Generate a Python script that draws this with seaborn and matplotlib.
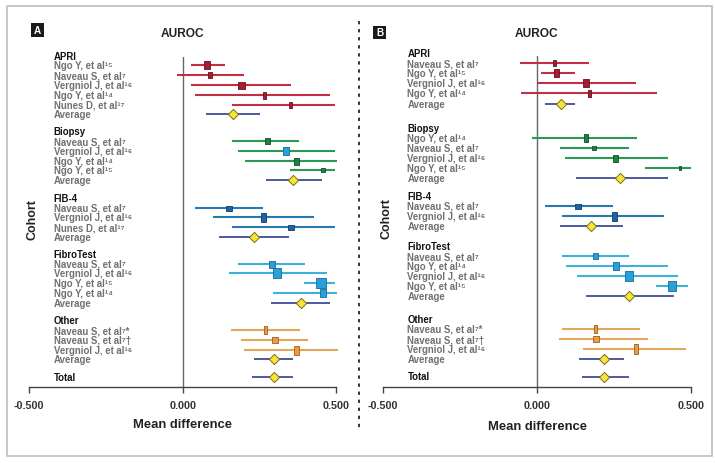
import matplotlib
matplotlib.use("Agg")
import numpy as np
import pandas as pd
import matplotlib.pyplot as plt
import seaborn as sns
from matplotlib import font_manager as fm
from matplotlib.path import Path
from matplotlib.patches import Rectangle
from matplotlib.lines import Line2D

# ---------------- DATA ----------------
GROUPS = ["APRI", "Biopsy", "FIB-4", "FibroTest", "Other"]
NGO15 = "Ngo Y, et al\u00b9\u2075"
NGO14 = "Ngo Y, et al\u00b9\u2074"
NAV7 = "Naveau S, et al\u2077"
NAV7S = "Naveau S, et al\u2077*"
NAV7D = "Naveau S, et al\u2077\u2020"
VER16 = "Vergniol J, et al\u00b9\u2076"
NUN17 = "Nunes D, et al\u00b9\u2077"

# Panel A
a_apri_lab = [NGO15, NAV7, VER16, NGO14, NUN17]
a_apri_est = [0.080, 0.089, 0.190, 0.265, 0.348]
a_apri_lo = [0.028, -0.019, 0.028, 0.040, 0.159]
a_apri_hi = [0.138, 0.200, 0.351, 0.480, 0.496]
a_apri_w = [6, 4, 7, 3, 3]
a_apri_h = [8, 6, 7, 7, 6]
a_apri_avg = [0.163, 0.074, 0.252]

a_bio_lab = [NAV7, VER16, NGO14, NGO15]
a_bio_est = [0.273, 0.337, 0.369, 0.458]
a_bio_lo = [0.159, 0.180, 0.202, 0.349]
a_bio_hi = [0.377, 0.496, 0.502, 0.496]
a_bio_w = [5, 6, 5, 4]
a_bio_h = [6, 8, 7, 5]
a_bio_avg = [0.360, 0.270, 0.453]

a_fib_lab = [NAV7, VER16, NUN17]
a_fib_est = [0.149, 0.261, 0.352]
a_fib_lo = [0.040, 0.098, 0.159]
a_fib_hi = [0.260, 0.426, 0.496]
a_fib_w = [6, 5, 6]
a_fib_h = [5, 9, 5]
a_fib_avg = [0.232, 0.118, 0.346]

a_ft_lab = [NAV7, VER16, NGO15, NGO14]
a_ft_est = [0.289, 0.308, 0.450, 0.457]
a_ft_lo = [0.180, 0.149, 0.394, 0.294]
a_ft_hi = [0.398, 0.471, 0.496, 0.502]
a_ft_w = [6, 8, 10, 6]
a_ft_h = [7, 10, 10, 8]
a_ft_avg = [0.384, 0.288, 0.480]

a_oth_lab = [NAV7S, NAV7D, VER16]
a_oth_est = [0.268, 0.300, 0.369]
a_oth_lo = [0.157, 0.189, 0.200]
a_oth_hi = [0.383, 0.408, 0.504]
a_oth_w = [3, 6, 5]
a_oth_h = [8, 6, 9]
a_oth_avg = [0.296, 0.232, 0.360]

a_total = [0.296, 0.224, 0.360]

# Panel B
b_apri_lab = [NAV7, NGO15, VER16, NGO14]
b_apri_est = [0.055, 0.062, 0.160, 0.167]
b_apri_lo = [-0.054, 0.013, 0.000, -0.052]
b_apri_hi = [0.167, 0.123, 0.321, 0.388]
b_apri_w = [3, 5, 6, 3]
b_apri_h = [6, 8, 8, 7]
b_apri_avg = [0.079, 0.025, 0.123]

b_bio_lab = [NGO14, NAV7, VER16, NGO15]
b_bio_est = [0.159, 0.186, 0.254, 0.462]
b_bio_lo = [-0.015, 0.076, 0.090, 0.350]
b_bio_hi = [0.323, 0.299, 0.423, 0.499]
b_bio_w = [4, 5, 5, 3]
b_bio_h = [8, 5, 7, 5]
b_bio_avg = [0.270, 0.125, 0.423]

b_fib_lab = [NAV7, VER16]
b_fib_est = [0.134, 0.248]
b_fib_lo = [0.026, 0.082]
b_fib_hi = [0.245, 0.410]
b_fib_w = [6, 5]
b_fib_h = [5, 9]
b_fib_avg = [0.176, 0.076, 0.278]

b_ft_lab = [NAV7, NGO14, VER16, NGO15]
b_ft_est = [0.187, 0.257, 0.299, 0.437]
b_ft_lo = [0.080, 0.093, 0.131, 0.387]
b_ft_hi = [0.299, 0.423, 0.456, 0.490]
b_ft_w = [5, 6, 8, 9]
b_ft_h = [6, 8, 10, 10]
b_ft_avg = [0.298, 0.160, 0.445]

b_oth_lab = [NAV7S, NAV7D, VER16]
b_oth_est = [0.189, 0.192, 0.321]
b_oth_lo = [0.082, 0.071, 0.150]
b_oth_hi = [0.335, 0.361, 0.484]
b_oth_w = [3, 6, 5]
b_oth_h = [8, 6, 10]
b_oth_avg = [0.218, 0.137, 0.282]

b_total = [0.218, 0.146, 0.298]

XTICKS = [-0.5, 0.0, 0.5]
XTICKLABELS = ["-0.500", "0.000", "0.500"]

# ---------------- STYLE ----------------
sns.set_theme(style="white")
plt.rcParams["font.family"] = ["Liberation Sans", "DejaVu Sans"]
plt.rcParams["lines.scale_dashes"] = False

LABEL_FP = fm.FontProperties(family=["Liberation Sans", "DejaVu Sans"],
                             weight="bold", size=6.9)

LINE_C = {"APRI": "#c22f45", "Biopsy": "#2b9a55", "FIB-4": "#2a78b0",
          "FibroTest": "#3db1da", "Other": "#e2a75a"}
MARK_C = {"APRI": "#a71c33", "Biopsy": "#1d8045", "FIB-4": "#1f63a0",
          "FibroTest": "#2b9fd8", "Other": "#eb9c3e"}
EDGE_C = {"APRI": "#6a0f1f", "Biopsy": "#0e4f28", "FIB-4": "#0f3e6a",
          "FibroTest": "#17699a", "Other": "#9a5f1e"}
AVG_LINE = "#2f3c8f"
DIAM_FILL = "#f5e53c"
DIAM_EDGE = "#7d6d10"

W, H = 715, 464
fig = plt.figure(figsize=(W / 100, H / 100), dpi=100)


def fx(x):
    return x / W


def fy(y):
    return 1 - y / H


def build(groups_data, total, gaps):
    rows = []
    y = 0.0
    for gi, (name, lab, est, lo, hi, w, h, avg) in enumerate(groups_data):
        rows.append(dict(y=y, kind="header", label=name, group=name))
        for j in range(len(lab)):
            y += 1
            rows.append(dict(y=y, kind="study", label=lab[j], group=name,
                             est=est[j], lo=lo[j], hi=hi[j], w=w[j], h=h[j]))
        y += 1
        rows.append(dict(y=y, kind="avg", label="Average", group=name,
                         est=avg[0], lo=avg[1], hi=avg[2]))
        y += gaps[gi]
    rows.append(dict(y=y, kind="total", label="Total", group="Total",
                     est=total[0], lo=total[1], hi=total[2]))
    return pd.DataFrame(rows)


A_data = [
    ("APRI", a_apri_lab, a_apri_est, a_apri_lo, a_apri_hi, a_apri_w, a_apri_h, a_apri_avg),
    ("Biopsy", a_bio_lab, a_bio_est, a_bio_lo, a_bio_hi, a_bio_w, a_bio_h, a_bio_avg),
    ("FIB-4", a_fib_lab, a_fib_est, a_fib_lo, a_fib_hi, a_fib_w, a_fib_h, a_fib_avg),
    ("FibroTest", a_ft_lab, a_ft_est, a_ft_lo, a_ft_hi, a_ft_w, a_ft_h, a_ft_avg),
    ("Other", a_oth_lab, a_oth_est, a_oth_lo, a_oth_hi, a_oth_w, a_oth_h, a_oth_avg),
]
B_data = [
    ("APRI", b_apri_lab, b_apri_est, b_apri_lo, b_apri_hi, b_apri_w, b_apri_h, b_apri_avg),
    ("Biopsy", b_bio_lab, b_bio_est, b_bio_lo, b_bio_hi, b_bio_w, b_bio_h, b_bio_avg),
    ("FIB-4", b_fib_lab, b_fib_est, b_fib_lo, b_fib_hi, b_fib_w, b_fib_h, b_fib_avg),
    ("FibroTest", b_ft_lab, b_ft_est, b_ft_lo, b_ft_hi, b_ft_w, b_ft_h, b_ft_avg),
    ("Other", b_oth_lab, b_oth_est, b_oth_lo, b_oth_hi, b_oth_w, b_oth_h, b_oth_avg),
]

PANELS = [
    dict(letter="A", df=build(A_data, a_total, [1.75, 1.8, 1.75, 1.8, 1.78]),
         left=29.3, right=336.3, top=58.3, axis=387.5, r0=56.7, rL=377.7,
         letter_box=(30.7, 24.0, 12.8, 14.0), cohort=(32, 220), title_y=34,
         xlabel_y=425),
    dict(letter="B", df=build(B_data, b_total, [2.4, 1.76, 2.04, 2.24, 1.73]),
         left=382.7, right=691.3, top=56.7, axis=387.7, r0=54.3, rL=377.5,
         letter_box=(373.3, 26.8, 12.8, 12.8), cohort=(387, 219), title_y=34,
         xlabel_y=427),
]

for P in PANELS:
    df = P["df"]
    ax = fig.add_axes([fx(P["left"]), fy(P["axis"]),
                       fx(P["right"] - P["left"]), (P["axis"] - P["top"]) / H])
    L = df["y"].max()
    scale = (P["rL"] - P["r0"]) / L
    ytop = -(P["r0"] - P["top"]) / scale
    ybot = L + (P["axis"] - P["rL"]) / scale
    ax.set_ylim(ybot, ytop)
    ax.set_xlim(-0.5, 0.5)

    ax.axvline(0, color="#666666", lw=1.0, zorder=1)

    studies = df[df.kind == "study"]
    for _, r in studies.iterrows():
        ax.hlines(r.y, r.lo, r.hi, color=LINE_C[r.group], lw=1.5, zorder=2,
                  clip_on=False)
    summ = df[df.kind.isin(["avg", "total"])]
    ax.hlines(summ["y"], summ["lo"], summ["hi"], color=AVG_LINE, lw=1.2,
              zorder=2, clip_on=False)

    for _, r in studies.iterrows():
        verts = [(-r.w / 2, -r.h / 2), (r.w / 2, -r.h / 2), (r.w / 2, r.h / 2),
                 (-r.w / 2, r.h / 2), (-r.w / 2, -r.h / 2)]
        mk = Path(verts, closed=True)
        fc = MARK_C[r.group]
        ec = EDGE_C[r.group]
        if P["letter"] == "A" and r.group == "Biopsy" and r.label == VER16:
            fc, ec = MARK_C["FibroTest"], EDGE_C["FibroTest"]
        ax.plot([r.est], [r.y], marker=mk, ms=max(r.w, r.h) * 0.72,
                mfc=fc, mec=ec, mew=0.6, ls="none", zorder=3, clip_on=False)

    sns.scatterplot(data=summ, x="est", y="y", marker="D", s=27,
                    color=DIAM_FILL, edgecolor=DIAM_EDGE, linewidth=0.7,
                    ax=ax, zorder=4, legend=False, clip_on=False)

    for _, r in df.iterrows():
        col = "#111111" if r.kind in ("header", "total") else "#707070"
        ax.text(-0.42, r.y, r.label, fontproperties=LABEL_FP, color=col,
                va="center", ha="left")

    for s in ["left", "top", "right"]:
        ax.spines[s].set_visible(False)
    ax.spines["bottom"].set_color("#444444")
    ax.spines["bottom"].set_linewidth(1.0)
    ax.set_yticks([])
    ax.set_xticks(XTICKS)
    ax.set_xticklabels(XTICKLABELS, fontsize=7.8, fontweight="bold",
                       color="#333333")
    ax.tick_params(axis="x", direction="out", length=4.5, width=1.0,
                   color="#444444", pad=5, bottom=True)
    ax.set_xlabel("")
    ax.set_ylabel("")
    ax.set_facecolor("none")

    cx = (P["left"] + P["right"]) / 2
    fig.text(fx(cx), fy(P["title_y"]), "AUROC", fontsize=8.6,
             fontweight="bold", ha="center", va="center", color="#222222")
    fig.text(fx(cx), fy(P["xlabel_y"]), "Mean difference", fontsize=9.4,
             fontweight="bold", ha="center", va="center", color="#222222")
    fig.text(fx(P["cohort"][0]), fy(P["cohort"][1]), "Cohort", fontsize=9.0,
             fontweight="bold", ha="center", va="center", rotation=90,
             color="#222222")
    bx, by, bw, bh = P["letter_box"]
    fig.patches.append(Rectangle((fx(bx), fy(by + bh)), fx(bw), bh / H,
                                 transform=fig.transFigure, facecolor="#1a1a1a",
                                 edgecolor="none"))
    fig.text(fx(bx + bw / 2), fy(by + bh / 2), P["letter"], fontsize=7.2,
             fontweight="bold", color="white", ha="center", va="center")

fig.patches.append(Rectangle((fx(7), fy(457)), fx(705), (457 - 7) / H,
                             transform=fig.transFigure, facecolor="none",
                             edgecolor="#bdbdbd", lw=1.2))
div = Line2D([fx(359), fx(359)], [fy(22), fy(430)], transform=fig.transFigure,
             color="#333333", lw=1.4)
div.set_dashes([2.4, 3.4])
fig.lines.append(div)

fig.savefig("out.png", dpi=100, facecolor="white")
